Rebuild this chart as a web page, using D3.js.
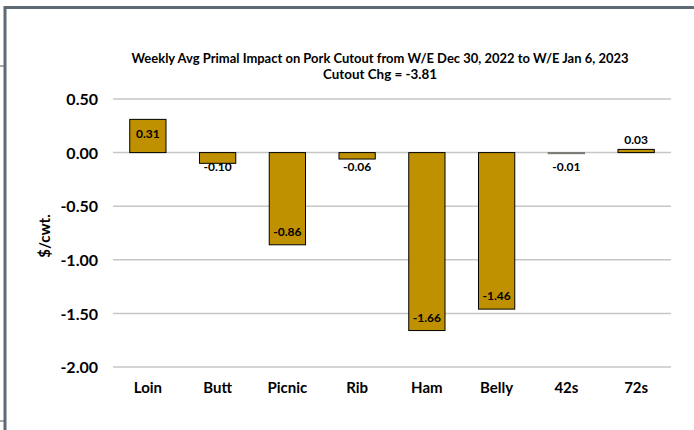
<!DOCTYPE html>
<html><head><meta charset="utf-8">
<script src="https://cdn.jsdelivr.net/npm/d3@7"></script>
<style>body{margin:0;background:#fff}svg{display:block}text{font-family:Lato,"Open Sans","Noto Sans",sans-serif;font-weight:bold;fill:#000}</style>
</head><body><svg id="c" width="694" height="430"></svg>
<script>
const categories = ["Loin","Butt","Picnic","Rib","Ham","Belly","42s","72s"];
const values = [0.31,-0.10,-0.86,-0.06,-1.66,-1.46,-0.01,0.03];
const yTicks = [0.5,0,-0.5,-1,-1.5,-2];
const title1 = "Weekly Avg Primal Impact on Pork Cutout from W/E Dec 30, 2022 to W/E Jan 6, 2023";
const title2 = "Cutout Chg = -3.81";
const yLabel = "$/cwt.";

const fmt = d => d3.format(".2f")(d).replace("\u2212","-");

const svg = d3.select("#c");
// frame
svg.append("path").attr("d","M5,430 V7.5 H694").attr("fill","none").attr("stroke","#5f6b74").attr("stroke-width",3);
svg.append("line").attr("x1",0).attr("x2",4).attr("y1",66).attr("y2",66).attr("stroke","#555");
svg.append("line").attr("x1",0).attr("x2",4).attr("y1",421).attr("y2",421).attr("stroke","#555");

const x = d3.scaleBand().domain(categories).range([113,671]).paddingInner(0.48).paddingOuter(0.24);
const y = d3.scaleLinear().domain([-2,0.5]).range([367,99]);

// gridlines
svg.append("g").selectAll("line").data(yTicks).join("line")
  .attr("x1",113).attr("x2",671).attr("y1",d=>y(d)).attr("y2",d=>y(d))
  .attr("stroke","#c6c6c6").attr("stroke-width",1.5);

// y axis labels
const yAxis = d3.axisLeft(y).tickValues(yTicks).tickFormat(fmt).tickSize(0).tickPadding(0);
const gy = svg.append("g").attr("transform","translate(98,0)").call(yAxis);
gy.select(".domain").remove();
gy.selectAll("text").style("font-size","16px").attr("dy","0.35em").attr("fill","#000");

// x axis labels
const xAxis = d3.axisBottom(x).tickSize(0).tickPadding(0);
const gx = svg.append("g").attr("transform","translate(0,384)").call(xAxis);
gx.select(".domain").remove();
gx.selectAll("text").style("font-size","15px").attr("dy","0.6em").attr("fill","#000");

// bars
svg.append("g").selectAll("rect").data(values).join("rect")
  .attr("x",(d,i)=>x(categories[i])).attr("width",x.bandwidth())
  .attr("y",d=>y(Math.max(0,d))).attr("height",d=>Math.abs(y(d)-y(0)))
  .attr("fill","#bf9000").attr("stroke",d=>Math.abs(d)<0.02?"#777":"#000").attr("stroke-width",1);

// data labels
svg.append("g").selectAll("text").data(values).join("text")
  .attr("x",(d,i)=>x(categories[i])+x.bandwidth()/2)
  .attr("y",d=>{
    if (Math.abs(d)>=0.3) return d>0 ? y(d)+14 : y(d)-13;
    return d>0 ? y(d)-10 : y(0)+14;
  })
  .attr("dy","0.35em").attr("text-anchor","middle").style("font-size","12px")
  .text(fmt);

// titles
svg.append("text").attr("x",380).attr("y",58).attr("dy","0.35em").attr("text-anchor","middle")
  .style("font-size","13px").attr("textLength",497).attr("lengthAdjust","spacingAndGlyphs").text(title1);
svg.append("text").attr("x",380).attr("y",74).attr("dy","0.35em").attr("text-anchor","middle")
  .style("font-size","13px").attr("textLength",114).attr("lengthAdjust","spacingAndGlyphs").text(title2);

// y label
svg.append("text").attr("transform","translate(45,236) rotate(-90)").attr("dy","0.35em")
  .attr("text-anchor","middle").style("font-size","15px").text(yLabel);
</script></body></html>
